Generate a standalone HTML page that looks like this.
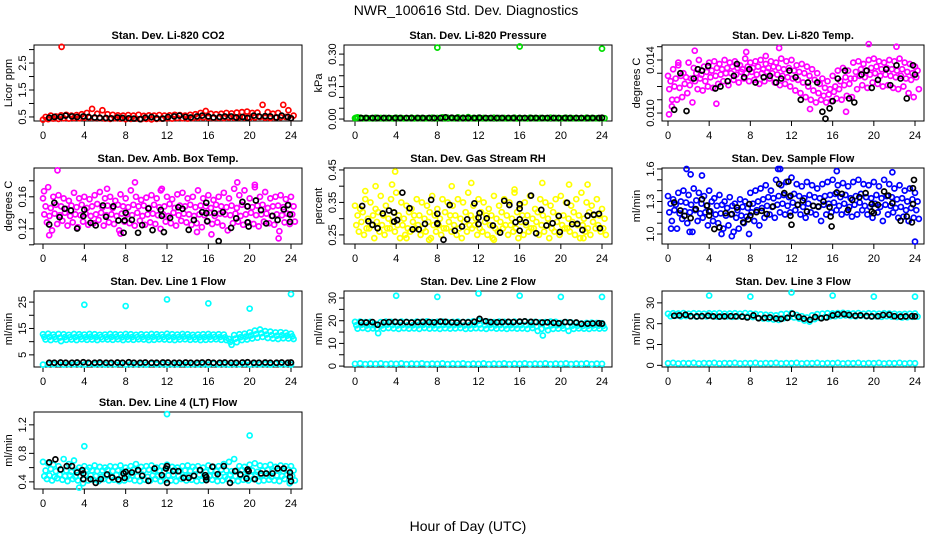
<!DOCTYPE html>
<html><head><meta charset="utf-8"><style>
html,body{margin:0;padding:0;background:#fff;}
svg{display:block;font-family:"Liberation Sans",sans-serif;}
</style></head><body>
<svg id="chart" width="936" height="540" viewBox="0 0 936 540">
<rect width="936" height="540" fill="#fff"/>
<text x="466" y="15" font-size="14" text-anchor="middle">NWR_100616  Std. Dev. Diagnostics</text>
<text x="468" y="531" font-size="14" text-anchor="middle">Hour of Day (UTC)</text>
</svg>
<script>
// ---- shared ----
const xTickVals = [0,4,8,12,16,20,24];
const blkHours = [0.6,1.1,1.7,2.2,2.8,3.3,3.9,4.4,5.0,5.5,6.1,6.6,7.2,7.7,8.3,8.8,9.4,9.9,10.5,11.0,11.6,12.1,12.7,13.2,13.8,14.3,14.9,15.4,16.0,16.5,17.1,17.6,18.2,18.7,19.3,19.8,20.4,20.9,21.5,22.0,22.6,23.1,23.7,24.0];

// ---- P1 CO2 ----
const co2A = [0.50,0.55,0.52,0.56,0.58,0.55,0.57,0.60,0.65,0.80,0.62,0.75,0.60,0.58,0.56,0.55,0.57,0.55,0.58,0.54,0.56,0.55,0.57,0.55,0.56,0.58,0.57,0.55,0.58,0.60,0.65,0.72,0.62,0.60,0.62,0.65,0.63,0.66,0.68,0.70,0.65,0.66,0.95,0.68,0.62,0.65,0.95,0.75,0.55];
const co2B = [0.40,0.42,0.44,0.43,0.45,0.44,0.46,0.45,0.47,0.48,0.46,0.45,0.44,0.43,0.45,0.44,0.42,0.43,0.44,0.42,0.43,0.41,0.43,0.44,0.45,0.44,0.46,0.45,0.44,0.46,0.47,0.48,0.47,0.46,0.47,0.46,0.48,0.47,0.49,0.48,0.47,0.48,0.50,0.47,0.46,0.48,0.49,0.50,0.45];
const co2Blk = [0.47,0.50,0.50,0.55,0.52,0.50,0.52,0.50,0.48,0.47,0.46,0.45,0.48,0.46,0.45,0.44,0.42,0.47,0.50,0.45,0.44,0.50,0.52,0.55,0.50,0.48,0.52,0.55,0.52,0.48,0.50,0.52,0.52,0.48,0.50,0.46,0.55,0.52,0.53,0.52,0.48,0.55,0.50,0.45];
const co2OutH = [1.8]; const co2OutV = [3.1];
const co2Ticks = [0.5,1,1.5,2,2.5,3]; const co2Labels = ['0.5','','1.5','','2.5',''];

// ---- P2 Pressure ----
const prA = [0.004,0.006,0.005,0.004,0.006,0.005,0.005,0.004,0.006,0.005,0.004,0.006,0.005,0.005,0.004,0.006,0.005,0.008,0.006,0.005,0.008,0.006,0.009,0.005,0.006,0.005,0.004,0.006,0.005,0.005,0.004,0.006,0.005,0.004,0.006,0.005,0.005,0.004,0.006,0.005,0.004,0.006,0.005,0.005,0.004,0.006,0.005,0.004,0.005];
const prB = [0.008,0.003,0.004,0.003,0.004,0.003,0.004,0.003,0.004,0.003,0.004,0.003,0.004,0.003,0.004,0.003,0.004,0.003,0.004,0.003,0.004,0.003,0.004,0.003,0.004,0.003,0.004,0.003,0.004,0.003,0.004,0.003,0.004,0.003,0.004,0.003,0.004,0.003,0.004,0.003,0.004,0.003,0.004,0.003,0.004,0.003,0.004,0.003,0.004];
const prBlk = [0.005,0.005,0.005,0.005,0.005,0.005,0.005,0.005,0.005,0.005,0.005,0.005,0.005,0.005,0.005,0.008,0.006,0.005,0.005,0.005,0.005,0.006,0.005,0.005,0.005,0.005,0.005,0.005,0.005,0.005,0.005,0.005,0.005,0.005,0.005,0.005,0.005,0.005,0.005,0.005,0.005,0.005,0.005,0.006];
const prOutH = [8,16,24,0.1]; const prOutV = [0.330,0.335,0.325,0.006];
const prTicks = [0,0.05,0.1,0.15,0.2,0.25,0.3]; const prLabels = ['0.00','','','0.15','','','0.30'];

// ---- P3 Temp ----
const tmp1 = [0.0128,0.0133,0.0136,0.0130,0.0138,0.0134,0.0140,0.0135,0.0138,0.0139,0.0137,0.0140,0.0138,0.0139,0.0136,0.0141,0.0138,0.0139,0.0140,0.0137,0.0139,0.0138,0.0141,0.0139,0.0140,0.0136,0.0137,0.0135,0.0133,0.0130,0.0126,0.0124,0.0128,0.0132,0.0134,0.0132,0.0138,0.0139,0.0137,0.0140,0.0141,0.0139,0.0138,0.0140,0.0139,0.0141,0.0138,0.0137,0.0135];
const tmp2 = [0.0124,0.0126,0.0128,0.0127,0.0126,0.0130,0.0129,0.0131,0.0132,0.0134,0.0133,0.0134,0.0135,0.0134,0.0133,0.0135,0.0134,0.0135,0.0133,0.0134,0.0135,0.0134,0.0133,0.0134,0.0132,0.0131,0.0130,0.0128,0.0125,0.0122,0.0119,0.0118,0.0120,0.0124,0.0127,0.0126,0.0131,0.0133,0.0132,0.0134,0.0135,0.0133,0.0134,0.0133,0.0132,0.0133,0.0131,0.0130,0.0132];
const tmp3 = [0.0118,0.0120,0.0119,0.0122,0.0121,0.0124,0.0126,0.0124,0.0127,0.0128,0.0129,0.0130,0.0130,0.0129,0.0131,0.0130,0.0131,0.0129,0.0130,0.0131,0.0130,0.0129,0.0128,0.0127,0.0126,0.0125,0.0123,0.0120,0.0117,0.0115,0.0113,0.0114,0.0116,0.0118,0.0121,0.0122,0.0126,0.0128,0.0127,0.0129,0.0130,0.0128,0.0129,0.0128,0.0127,0.0128,0.0126,0.0125,0.0127];
const tmp4 = [0.0105,0.0110,0.0112,0.0115,0.0108,0.0118,0.0117,0.0120,0.0119,0.0122,0.0124,0.0121,0.0125,0.0123,0.0126,0.0124,0.0125,0.0122,0.0124,0.0126,0.0123,0.0121,0.0122,0.0120,0.0117,0.0115,0.0112,0.0110,0.0108,0.0110,0.0108,0.0109,0.0111,0.0110,0.0113,0.0112,0.0118,0.0121,0.0119,0.0123,0.0122,0.0120,0.0121,0.0119,0.0118,0.0120,0.0115,0.0112,0.0118];
const tmpOutH = [0.1,2.6,7.6,10.8,9.5,19.5,22.2,4.7,13.8,17.3,0.4,1.0];
const tmpOutV = [0.0099,0.0147,0.0146,0.0149,0.0143,0.0152,0.0150,0.0107,0.0103,0.0101,0.0110,0.0138];
const tmpBlkH = [0.6,1.2,1.8,2.5,2.9,3.3,3.9,4.6,5.1,5.8,6.4,6.7,7.4,7.9,8.5,9.3,9.9,10.5,11,11.8,12.4,12.9,13.6,14.5,15,15.3,15.7,16,16.5,17.2,17.6,18.1,18.8,19.3,19.8,20.4,21.2,21.6,22.2,22.6,23.2,23.8,24];
const tmpBlkV = [0.01025,0.0130,0.01015,0.0126,0.0133,0.0132,0.01355,0.01185,0.0120,0.0124,0.0128,0.0137,0.0127,0.0133,0.0123,0.0127,0.0128,0.0123,0.0126,0.0132,0.0127,0.0110,0.0123,0.0123,0.0101,0.00957,0.01035,0.0109,0.0126,0.0132,0.0111,0.0108,0.0129,0.0132,0.0119,0.0125,0.0133,0.0121,0.0136,0.0126,0.0111,0.0136,0.0129];
const tmpTicks = [0.010,0.011,0.012,0.013,0.014,0.015]; const tmpLabels = ['0.010','','','','0.014',''];

// ---- P4 Amb Box ----
const amb1 = [0.158,0.172,0.160,0.162,0.158,0.155,0.165,0.158,0.160,0.157,0.162,0.166,0.158,0.160,0.155,0.163,0.158,0.168,0.160,0.156,0.159,0.162,0.158,0.170,0.160,0.157,0.163,0.165,0.158,0.160,0.168,0.158,0.162,0.156,0.160,0.165,0.158,0.170,0.162,0.168,0.158,0.172,0.160,0.166,0.158,0.160,0.162,0.157,0.160];
const amb2 = [0.148,0.146,0.150,0.148,0.145,0.149,0.147,0.150,0.146,0.148,0.151,0.147,0.149,0.146,0.150,0.148,0.147,0.150,0.148,0.149,0.146,0.150,0.147,0.148,0.151,0.146,0.149,0.148,0.150,0.147,0.149,0.148,0.146,0.150,0.148,0.147,0.149,0.146,0.150,0.148,0.147,0.149,0.150,0.146,0.148,0.149,0.147,0.150,0.148];
const amb3 = [0.138,0.136,0.139,0.137,0.140,0.136,0.138,0.137,0.139,0.136,0.138,0.140,0.137,0.138,0.136,0.139,0.138,0.137,0.140,0.136,0.138,0.139,0.137,0.138,0.136,0.140,0.137,0.139,0.138,0.136,0.138,0.137,0.140,0.136,0.139,0.138,0.137,0.139,0.136,0.138,0.140,0.137,0.138,0.139,0.136,0.138,0.137,0.139,0.138];
const amb4 = [0.128,0.118,0.126,0.130,0.124,0.128,0.122,0.129,0.125,0.127,0.131,0.124,0.128,0.126,0.118,0.129,0.127,0.124,0.130,0.125,0.128,0.126,0.120,0.129,0.127,0.124,0.130,0.128,0.125,0.127,0.122,0.129,0.126,0.128,0.124,0.118,0.127,0.129,0.125,0.128,0.126,0.123,0.129,0.127,0.125,0.117,0.128,0.126,0.129];
const ambOutH = [1.4,0.1,8.9,18.8,20.5,22.8,16.3,0.6,7.5,14.9,6.2,11.4];
const ambOutV = [0.193,0.167,0.178,0.178,0.175,0.108,0.113,0.112,0.114,0.116,0.170,0.168];
const ambBlkH = [0.6,1.1,1.6,2.1,2.7,3.3,3.9,4.0,4.6,5.1,5.8,6.1,6.8,7.3,7.8,7.9,8.0,8.6,9.2,9.6,10.2,10.6,11.4,11.5,11.7,12.3,13.1,13.5,14.1,14.6,15.4,15.8,15.9,15.8,16.6,17.0,17.4,18.2,18.7,19.3,19.8,19.8,19.9,20.6,21.1,21.6,22.2,22.7,23.3,23.7,23.9,23.9];
const ambBlkV = [0.1254,0.1525,0.1346,0.145,0.1429,0.1204,0.1358,0.1438,0.1275,0.1242,0.1492,0.135,0.148,0.1304,0.115,0.1304,0.14,0.1312,0.115,0.1246,0.1454,0.1183,0.1437,0.1362,0.1158,0.1337,0.147,0.145,0.1187,0.131,0.1408,0.1396,0.1296,0.1525,0.1396,0.1046,0.1408,0.1212,0.133,0.1537,0.148,0.128,0.1229,0.1554,0.1433,0.1267,0.1362,0.131,0.1442,0.1496,0.1379,0.1287];
const ambTicks = [0.10,0.12,0.14,0.16,0.18]; const ambLabels = ['','0.12','','0.16',''];

// ---- P5 RH ----
const rh1 = [0.34,0.33,0.36,0.35,0.33,0.37,0.34,0.36,0.38,0.35,0.34,0.33,0.36,0.35,0.34,0.37,0.33,0.36,0.35,0.34,0.36,0.35,0.38,0.34,0.36,0.35,0.33,0.37,0.34,0.36,0.35,0.38,0.34,0.35,0.37,0.33,0.36,0.35,0.34,0.36,0.37,0.35,0.34,0.36,0.38,0.35,0.34,0.36,0.33];
const rh2 = [0.31,0.32,0.30,0.31,0.32,0.31,0.30,0.32,0.31,0.30,0.32,0.31,0.31,0.30,0.32,0.31,0.30,0.32,0.31,0.31,0.30,0.32,0.31,0.30,0.32,0.31,0.31,0.30,0.32,0.31,0.30,0.32,0.31,0.31,0.30,0.32,0.31,0.30,0.32,0.31,0.31,0.30,0.32,0.31,0.30,0.32,0.31,0.31,0.30];
const rh3 = [0.28,0.29,0.27,0.28,0.29,0.28,0.27,0.29,0.28,0.28,0.27,0.29,0.28,0.27,0.29,0.28,0.28,0.27,0.29,0.28,0.27,0.29,0.28,0.28,0.27,0.29,0.28,0.27,0.29,0.28,0.28,0.27,0.29,0.28,0.27,0.29,0.28,0.28,0.27,0.29,0.28,0.27,0.29,0.28,0.28,0.27,0.29,0.28,0.27];
const rh4 = [0.26,0.25,0.27,0.24,0.26,0.25,0.27,0.26,0.24,0.25,0.26,0.27,0.25,0.26,0.24,0.26,0.25,0.27,0.26,0.25,0.24,0.26,0.27,0.25,0.26,0.25,0.24,0.26,0.27,0.25,0.26,0.24,0.25,0.26,0.27,0.25,0.26,0.24,0.26,0.25,0.27,0.26,0.25,0.24,0.26,0.25,0.27,0.26,0.25];
const rhOutH = [3.9,3.6,2.0,11.3,9.4,18.2,20.8,22.6,7.2,13.5,5.0,22.2,1.0,15.5];
const rhOutV = [0.445,0.405,0.40,0.41,0.40,0.41,0.405,0.405,0.235,0.235,0.24,0.24,0.385,0.39];
const rhBlkH = [0.7,1.3,1.7,2.2,2.7,3.3,3.8,3.8,4.1,4.6,5.3,5.6,6.2,6.8,7.4,8,8,8,8.6,9.2,9.7,10.4,10.9,11.6,12,12,12.1,12.8,13.4,14.1,14.5,15,15.6,16,16,16,16,16.6,17.1,17.6,18.1,18.6,19.2,19.8,19.9,20.6,21.1,21.6,22.1,22.6,23.2,23.7,23.8];
const rhBlkV = [0.339,0.292,0.281,0.2705,0.316,0.325,0.319,0.291,0.296,0.380,0.332,0.267,0.267,0.284,0.358,0.284,0.315,0.286,0.235,0.342,0.263,0.276,0.298,0.347,0.283,0.303,0.317,0.301,0.279,0.257,0.355,0.342,0.289,0.345,0.331,0.298,0.263,0.289,0.371,0.255,0.327,0.279,0.286,0.308,0.259,0.349,0.283,0.284,0.265,0.309,0.312,0.315,0.2705];
const rhTicks = [0.25,0.30,0.35,0.40,0.45]; const rhLabels = ['0.25','','0.35','','0.45'];

// ---- P6 Sample flow ----
const sf1 = [1.35,1.32,1.38,1.40,1.36,1.42,1.38,1.35,1.40,1.33,1.36,1.30,1.34,1.28,1.32,1.30,1.38,1.40,1.42,1.45,1.40,1.50,1.45,1.48,1.52,1.46,1.44,1.48,1.45,1.42,1.46,1.48,1.50,1.45,1.47,1.44,1.48,1.50,1.46,1.45,1.48,1.44,1.50,1.46,1.42,1.45,1.40,1.42,1.38];
const sf2 = [1.28,1.27,1.30,1.29,1.27,1.31,1.28,1.26,1.30,1.26,1.27,1.24,1.26,1.22,1.25,1.24,1.28,1.30,1.32,1.34,1.33,1.35,1.36,1.34,1.37,1.35,1.33,1.36,1.34,1.33,1.35,1.36,1.37,1.34,1.36,1.33,1.35,1.37,1.34,1.33,1.36,1.33,1.35,1.34,1.32,1.33,1.30,1.32,1.30];
const sf3 = [1.20,1.22,1.19,1.21,1.20,1.22,1.19,1.20,1.21,1.18,1.19,1.17,1.18,1.15,1.17,1.16,1.20,1.22,1.24,1.26,1.25,1.27,1.28,1.26,1.29,1.27,1.25,1.28,1.26,1.25,1.27,1.28,1.29,1.26,1.28,1.25,1.27,1.29,1.26,1.25,1.28,1.25,1.27,1.26,1.24,1.25,1.22,1.24,1.22];
const sf4 = [1.12,1.05,1.14,1.10,1.02,1.12,1.15,1.08,1.12,1.10,1.05,1.08,1.02,1.05,1.10,1.00,1.12,1.08,1.15,1.18,1.15,1.20,1.18,1.20,1.22,1.18,1.15,1.20,1.18,1.12,1.18,1.20,1.22,1.18,1.20,1.16,1.18,1.22,1.18,1.15,1.20,1.12,1.18,1.20,1.15,1.16,1.12,1.15,1.14];
const sfOutH = [1.8,2.2,3.3,10.7,10.9,16.4,21.8,6.2,5.2,2.1,0.3,24];
const sfOutV = [1.60,1.55,1.54,1.60,1.60,1.58,1.57,0.98,1.00,1.02,1.05,0.93];
const sfBlkH = [0.6,1.2,1.6,2.2,2.7,3.3,3.8,4.0,4.0,4.5,5.0,5.6,6.2,6.7,7.3,7.8,7.9,8,8.6,9.1,9.6,10.2,10.8,11.3,11.7,11.9,11.9,12,12.6,13.1,13.5,14.1,14.6,15.1,15.7,15.8,15.9,16.4,16.9,17.5,17.9,18.6,19.2,19.8,19.8,20.0,20.4,21.0,21.4,21.8,22.6,23.2,23.7,23.8,23.8,23.9];
const sfBlkV = [1.291,1.217,1.168,1.147,1.230,1.321,1.263,1.208,1.171,1.046,1.061,1.193,1.184,1.245,1.107,1.135,1.276,1.171,1.202,1.214,1.184,1.254,1.462,1.377,1.484,1.352,1.168,1.086,1.269,1.309,1.208,1.260,1.254,1.300,1.248,1.162,1.070,1.383,1.370,1.223,1.315,1.340,1.377,1.276,1.208,1.193,1.269,1.392,1.355,1.285,1.122,1.162,1.107,1.276,1.422,1.499];
const sfTicks = [1.0,1.1,1.2,1.3,1.4,1.5,1.6]; const sfLabels = ['1.0','','','1.3','','','1.6'];

// ---- P7 Line 1 ----
const l1A = [12.8,13.0,12.7,12.9,12.8,12.6,12.9,12.8,12.7,12.9,12.8,12.6,12.7,12.9,12.8,12.7,12.9,12.8,12.6,12.8,12.7,12.9,12.8,12.7,13.0,12.8,12.7,12.9,12.8,12.6,12.7,12.8,12.9,12.7,12.8,12.7,11.0,12.5,12.8,13.0,13.5,14.2,14.6,14.0,13.8,13.5,13.6,13.4,13.0];
const l1B = [10.8,10.6,10.9,10.2,10.7,10.8,10.6,10.9,10.7,10.8,10.6,10.9,10.8,10.7,10.9,10.6,10.8,10.7,10.9,10.8,10.6,10.7,10.9,10.8,10.7,10.6,10.8,10.9,10.7,10.8,10.6,10.7,10.8,10.9,10.7,10.6,8.8,9.8,10.6,10.8,11.2,11.5,11.8,11.4,11.2,11.0,11.3,11.2,11.0];
const l1Low = [1.3,1.5,1.4,1.6,1.3,1.5,1.4,1.5,1.3,1.6,1.4,1.5,1.3,1.5,1.4,1.6,1.3,1.5,1.4,1.5,1.3,1.6,1.4,1.5,1.3,1.5,1.4,1.6,1.3,1.5,1.4,1.5,1.3,1.6,1.4,1.5,1.3,1.5,1.4,1.6,1.3,1.5,1.4,1.5,1.3,1.6,1.4,1.5,1.3];
const l1Blk = [2.0,2.0,2.1,2.0,2.0,2.1,2.2,2.0,2.0,2.1,2.0,2.0,2.1,2.0,2.2,2.0,2.0,2.1,2.0,2.0,2.1,2.1,2.0,2.0,2.1,2.0,2.0,2.1,2.2,2.0,2.0,2.1,2.0,2.0,2.1,2.2,2.0,2.0,2.1,2.0,2.0,2.1,2.0,2.1];
const l1OutH = [4,8,12,16,20,24]; const l1OutV = [24,23.5,26,24.5,22.5,28];
const l1Ticks = [5,10,15,20,25]; const l1Labels = ['5','','15','','25'];

// ---- P8 Line 2 ----
const l2A = [19.5,19.6,19.4,19.5,18.5,19.4,19.6,19.5,19.4,19.6,19.5,19.4,19.6,19.5,19.7,19.4,19.5,19.6,19.4,19.5,19.6,19.4,19.5,19.7,20.0,19.6,19.5,19.4,19.6,19.5,19.4,19.6,19.5,19.7,19.4,19.5,19.3,19.4,19.6,19.5,19.0,19.4,19.2,19.0,18.8,19.0,19.1,19.0,18.9];
const l2B = [16.5,16.8,16.4,16.6,14.5,16.5,16.8,16.6,16.4,16.7,16.5,16.6,16.4,16.8,16.5,16.6,16.4,16.7,16.5,16.6,16.8,16.4,16.5,16.7,16.6,16.4,16.8,16.5,16.6,16.4,16.7,16.5,16.6,16.4,16.8,15.5,13.5,15.8,16.4,16.5,16.6,15.5,16.4,16.6,16.5,16.4,16.7,16.5,16.6];
const l2Low = [1.0,1.2,0.9,1.1,1.0,1.2,0.9,1.1,1.0,1.2,0.9,1.1,1.0,1.2,0.9,1.1,1.0,1.2,0.9,1.1,1.0,1.2,0.9,1.1,1.0,1.2,0.9,1.1,1.0,1.2,0.9,1.1,1.0,1.2,0.9,1.1,1.0,1.2,0.9,1.1,1.0,1.2,0.9,1.1,1.0,1.2,0.9,1.1,1.0];
const l2Blk = [19.3,19.2,19.4,18.2,19.3,19.4,19.5,19.3,19.4,19.2,19.4,19.5,19.4,19.3,19.6,19.5,19.3,19.2,19.4,19.3,19.5,20.8,19.8,19.4,19.3,19.4,19.5,19.4,19.6,19.7,19.5,19.4,19.2,19.3,19.1,18.9,19.4,19.3,19.2,18.6,18.7,18.8,18.9,18.7];
const l2OutH = [4,8,12,16,20,24]; const l2OutV = [31,30.5,32,31,30.5,30.5];
const l2Ticks = [0,5,10,15,20,25,30]; const l2Labels = ['0','','10','','20','','30'];

// ---- P9 Line 3 ----
const l3A = [24.8,25.0,24.9,25.1,24.8,25.0,24.9,24.8,25.0,24.9,25.1,24.8,24.9,25.0,24.8,25.1,24.9,24.7,24.5,24.3,24.2,24.0,24.6,24.8,25.0,24.2,23.6,23.0,24.0,24.6,24.8,25.0,24.9,25.1,25.2,25.0,24.9,25.1,24.8,25.0,24.9,24.8,25.0,24.9,24.8,24.6,24.7,24.8,24.9];
const l3B = [23.6,23.8,23.5,23.7,23.6,23.4,23.6,23.5,23.7,23.4,23.6,23.5,23.3,23.5,23.4,23.6,23.2,22.8,22.5,22.3,22.0,21.8,22.6,23.2,23.0,22.4,21.5,21.0,22.2,22.8,23.2,23.5,23.6,23.8,24.0,23.7,23.5,23.8,23.6,23.4,23.5,23.3,23.6,23.4,23.2,23.0,23.1,23.3,23.4];
const l3Low = [1.0,1.2,0.9,1.1,1.0,1.2,0.9,1.1,1.0,1.2,0.9,1.1,1.0,1.2,0.9,1.1,1.0,1.2,0.9,1.1,1.0,1.2,0.9,1.1,1.0,1.2,0.9,1.1,1.0,1.2,0.9,1.1,1.0,1.2,0.9,1.1,1.0,1.2,0.9,1.1,1.0,1.2,0.9,1.1,1.0,1.2,0.9,1.1,1.0];
const l3Blk = [23.8,24.0,24.3,23.6,23.5,23.6,23.8,23.5,23.4,23.5,23.6,23.5,23.4,23.0,24.0,22.6,22.8,23.0,22.5,22.3,22.8,24.8,23.2,22.4,21.9,23.2,22.6,23.0,24.0,24.5,24.6,24.2,23.8,24.0,23.7,23.5,23.6,24.2,24.3,23.6,23.4,23.5,23.6,23.5];
const l3OutH = [4,8,12,16,20,24]; const l3OutV = [33.5,33,35,33.5,33,33];
const l3Ticks = [0,10,20,30]; const l3Labels = ['0','10','20','30'];

// ---- P10 Line 4 ----
const l4a = [0.68,0.66,0.64,0.62,0.72,0.65,0.70,0.60,0.62,0.60,0.63,0.61,0.60,0.62,0.61,0.63,0.60,0.62,0.65,0.61,0.62,0.63,0.60,0.62,0.64,0.61,0.60,0.62,0.63,0.61,0.62,0.60,0.63,0.61,0.62,0.65,0.68,0.72,0.62,0.61,0.64,0.66,0.63,0.62,0.64,0.61,0.63,0.62,0.62];
const l4b = [0.56,0.58,0.55,0.57,0.56,0.54,0.56,0.55,0.57,0.56,0.55,0.56,0.57,0.55,0.56,0.54,0.56,0.57,0.55,0.56,0.57,0.55,0.56,0.54,0.56,0.57,0.55,0.56,0.55,0.57,0.56,0.54,0.56,0.55,0.57,0.56,0.55,0.56,0.57,0.55,0.56,0.54,0.56,0.57,0.55,0.56,0.55,0.57,0.56];
const l4c = [0.48,0.49,0.47,0.50,0.48,0.49,0.47,0.48,0.50,0.49,0.48,0.47,0.49,0.48,0.50,0.48,0.47,0.49,0.48,0.50,0.47,0.49,0.48,0.47,0.49,0.50,0.48,0.47,0.49,0.48,0.50,0.47,0.48,0.49,0.48,0.47,0.50,0.48,0.49,0.47,0.48,0.50,0.49,0.48,0.47,0.49,0.48,0.50,0.48];
const l4d = [0.44,0.42,0.45,0.43,0.41,0.44,0.42,0.38,0.42,0.43,0.41,0.44,0.42,0.43,0.41,0.42,0.44,0.42,0.41,0.43,0.42,0.44,0.41,0.43,0.42,0.41,0.44,0.42,0.43,0.41,0.42,0.44,0.43,0.41,0.42,0.44,0.42,0.41,0.43,0.42,0.44,0.41,0.42,0.43,0.42,0.41,0.44,0.38,0.42];
const l4OutH = [4,12,20,3.5]; const l4OutV = [0.9,1.35,1.05,0.32];
const l4BlkH = [0.6,1.2,1.7,2.3,2.8,3.3,3.8,3.9,3.9,4.6,5.1,5.6,6.2,6.7,7.3,7.8,7.9,8.0,8.6,9.2,9.6,10.2,10.8,11.5,11.9,12,12,12.6,13.1,13.6,14.1,14.6,15.2,15.7,15.8,15.8,16.4,16.9,17.5,18.1,18.6,19.1,19.7,19.8,19.9,20.5,21.1,21.6,22.2,22.7,23.3,23.9,23.9,24];
const l4BlkV = [0.673,0.715,0.574,0.621,0.621,0.532,0.565,0.518,0.438,0.438,0.386,0.438,0.504,0.461,0.433,0.518,0.456,0.541,0.532,0.565,0.485,0.414,0.588,0.494,0.588,0.386,0.621,0.551,0.551,0.456,0.456,0.485,0.565,0.494,0.424,0.466,0.612,0.508,0.621,0.386,0.551,0.504,0.447,0.574,0.551,0.438,0.518,0.518,0.518,0.588,0.588,0.532,0.471,0.409];
const l4Ticks = [0.4,0.6,0.8,1.0,1.2]; const l4Labels = ['0.4','','0.8','','1.2'];

// ---- rendering ----
const svg = document.getElementById('chart');
const NS = 'http://www.w3.org/2000/svg';
function mk(tag, attrs, parent) {
  const e = document.createElementNS(NS, tag);
  for (const k in attrs) e.setAttribute(k, attrs[k]);
  (parent || svg).appendChild(e);
  return e;
}
const cols = [{l:34,r:302,x0:43,x24:291},{l:344,r:612,x0:355,x24:602},{l:662,r:924,x0:668,x24:915}];
const rows = [{t:45,b:121},{t:168,b:244},{t:291,b:367},{t:412,b:489}];

function panel(name, title, ylab, ci, ri, ymin, ymax, ticks, labels) {
  const c = cols[ci], r = rows[ri];
  const g = mk('g', {});
  
  
  const P = {g: g,
    x: h => c.x0 + (c.x24 - c.x0) * h / 24,
    y: v => r.b - (r.b - r.t) * (v - ymin) / (ymax - ymin)};
  const t = mk('text', {x: (c.l + c.r) / 2, y: r.t - 6, 'font-size': 11, 'font-weight': 'bold', 'text-anchor': 'middle'}, g);
  t.textContent = title;
  
  
  const yl = mk('text', {x: 0, y: 0, 'font-size': 11, 'text-anchor': 'middle', transform: `translate(${c.l - 22},${(r.t + r.b) / 2}) rotate(-90)`}, g);
  yl.textContent = ylab;
  
  
  xTickVals.forEach(h => {
    const X = P.x(h);
    mk('line', {x1: X, x2: X, y1: r.b, y2: r.b + 5, stroke: '#000', 'stroke-width': 1}, g);
    const lt = mk('text', {x: X, y: r.b + 18, 'font-size': 11, 'text-anchor': 'middle'}, g);
    lt.textContent = String(h);
    
    
  });
  mk('line', {x1: c.l, x2: c.l, y1: P.y(ticks[0]), y2: P.y(ticks[ticks.length - 1]), stroke: '#000', 'stroke-width': 1}, g);
  ticks.forEach((v, i) => {
    const Y = P.y(v);
    mk('line', {x1: c.l - 5, x2: c.l, y1: Y, y2: Y, stroke: '#000', 'stroke-width': 1}, g);
    if (labels[i]) {
      const lt = mk('text', {x: 0, y: 0, 'font-size': 11, 'text-anchor': 'middle', transform: `translate(${c.l - 8},${Y}) rotate(-90)`}, g);
      lt.textContent = labels[i];
      
      
    }
  });
  const box = mk('rect', {x: c.l, y: r.t, width: c.r - c.l, height: r.b - r.t, fill: 'none', stroke: '#000', 'stroke-width': 1}, g);
  
  
  return P;
}
function dot(P, h, v, col, nm) {
  const e = mk('circle', {cx: P.x(h), cy: P.y(v), r: 2.5, fill: 'none', stroke: col, 'stroke-width': 1.7}, P.g);
  
  
}
function grid(P, vals, off, col, nm) { vals.forEach((v, i) => dot(P, i * 0.5 + off, v, col, nm)); }
function pairs(P, hs, vs, col, nm) { hs.forEach((h, i) => dot(P, h, vs[i], col, nm)); }

let P;
P = panel('co2', 'Stan. Dev. Li-820 CO2', 'Licor ppm', 0, 0, 0.35, 3.17, co2Ticks, co2Labels);
grid(P, co2A, 0.25, '#ff0000', 'co2-point'); grid(P, co2B, 0, '#ff0000', 'co2-point');
pairs(P, co2OutH, co2OutV, '#ff0000', 'co2-outlier');
pairs(P, blkHours, co2Blk, '#000', 'co2-hourly-point');

P = panel('pressure', 'Stan. Dev. Li-820 Pressure', 'kPa', 1, 0, -0.009, 0.342, prTicks, prLabels);
grid(P, prA, 0, '#00dd00', 'pressure-point'); grid(P, prB, 0.25, '#00dd00', 'pressure-point');
pairs(P, blkHours, prBlk, '#000', 'pressure-hourly-point');
pairs(P, prOutH, prOutV, '#00dd00', 'pressure-outlier');

P = panel('temp', 'Stan. Dev. Li-820 Temp.', 'degrees C', 2, 0, 0.0094, 0.01513, tmpTicks, tmpLabels);
grid(P, tmp1, 0, '#ff00ff', 'temp-point'); grid(P, tmp2, 0.25, '#ff00ff', 'temp-point');
grid(P, tmp3, 0.125, '#ff00ff', 'temp-point'); grid(P, tmp4, 0.375, '#ff00ff', 'temp-point');
pairs(P, tmpOutH, tmpOutV, '#ff00ff', 'temp-outlier');
pairs(P, tmpBlkH, tmpBlkV, '#000', 'temp-hourly-point');

P = panel('amb-box', 'Stan. Dev. Amb. Box Temp.', 'degrees C', 0, 1, 0.101, 0.196, ambTicks, ambLabels);
grid(P, amb1, 0, '#ff00ff', 'amb-point'); grid(P, amb2, 0.25, '#ff00ff', 'amb-point');
grid(P, amb3, 0.125, '#ff00ff', 'amb-point'); grid(P, amb4, 0.375, '#ff00ff', 'amb-point');
pairs(P, ambOutH, ambOutV, '#ff00ff', 'amb-outlier');
pairs(P, ambBlkH, ambBlkV, '#000', 'amb-hourly-point');

P = panel('rh', 'Stan. Dev. Gas Stream RH', 'percent', 1, 1, 0.222, 0.456, rhTicks, rhLabels);
grid(P, rh1, 0, '#ffff00', 'rh-point'); grid(P, rh2, 0.25, '#ffff00', 'rh-point');
grid(P, rh3, 0.125, '#ffff00', 'rh-point'); grid(P, rh4, 0.375, '#ffff00', 'rh-point');
pairs(P, rhOutH, rhOutV, '#ffff00', 'rh-outlier');
pairs(P, rhBlkH, rhBlkV, '#000', 'rh-hourly-point');

P = panel('sample-flow', 'Stan. Dev. Sample Flow', 'ml/min', 2, 1, 0.908, 1.609, sfTicks, sfLabels);
grid(P, sf1, 0, '#0000ff', 'flow-point'); grid(P, sf2, 0.25, '#0000ff', 'flow-point');
grid(P, sf3, 0.125, '#0000ff', 'flow-point'); grid(P, sf4, 0.375, '#0000ff', 'flow-point');
pairs(P, sfOutH, sfOutV, '#0000ff', 'flow-outlier');
pairs(P, sfBlkH, sfBlkV, '#000', 'flow-hourly-point');

P = panel('line1', 'Stan. Dev. Line 1 Flow', 'ml/min', 0, 2, 0.4, 29.2, l1Ticks, l1Labels);
grid(P, l1A, 0, '#00ffff', 'line1-point'); grid(P, l1B, 0.25, '#00ffff', 'line1-point');
grid(P, l1A.map((v,i)=>(v+l1B[i])/2), 0.125, '#00ffff', 'line1-point');
grid(P, l1Low, 0, '#00ffff', 'line1-point');
pairs(P, l1OutH, l1OutV, '#00ffff', 'line1-outlier');
pairs(P, blkHours, l1Blk, '#000', 'line1-hourly-point');

P = panel('line2', 'Stan. Dev. Line 2 Flow', 'ml/min', 1, 2, -0.4, 33.1, l2Ticks, l2Labels);
grid(P, l2A, 0, '#00ffff', 'line2-point'); grid(P, l2B, 0.25, '#00ffff', 'line2-point');
grid(P, l2A.map((v,i)=>(v+l2B[i])/2), 0.125, '#00ffff', 'line2-point');
grid(P, l2Low, 0, '#00ffff', 'line2-point');
pairs(P, l2OutH, l2OutV, '#00ffff', 'line2-outlier');
pairs(P, blkHours, l2Blk, '#000', 'line2-hourly-point');

P = panel('line3', 'Stan. Dev. Line 3 Flow', 'ml/min', 2, 2, -0.8, 35.7, l3Ticks, l3Labels);
grid(P, l3A, 0, '#00ffff', 'line3-point'); grid(P, l3B, 0.25, '#00ffff', 'line3-point');
grid(P, l3Low, 0, '#00ffff', 'line3-point');
pairs(P, l3OutH, l3OutV, '#00ffff', 'line3-outlier');
pairs(P, blkHours, l3Blk, '#000', 'line3-hourly-point');

P = panel('line4', 'Stan. Dev. Line 4 (LT) Flow', 'ml/min', 0, 3, 0.30, 1.38, l4Ticks, l4Labels);
grid(P, l4a, 0, '#00ffff', 'line4-point'); grid(P, l4b, 0.25, '#00ffff', 'line4-point');
grid(P, l4c, 0.125, '#00ffff', 'line4-point'); grid(P, l4d, 0.375, '#00ffff', 'line4-point');
pairs(P, l4OutH, l4OutV, '#00ffff', 'line4-outlier');
pairs(P, l4BlkH, l4BlkV, '#000', 'line4-hourly-point');
</script>
</body></html>
